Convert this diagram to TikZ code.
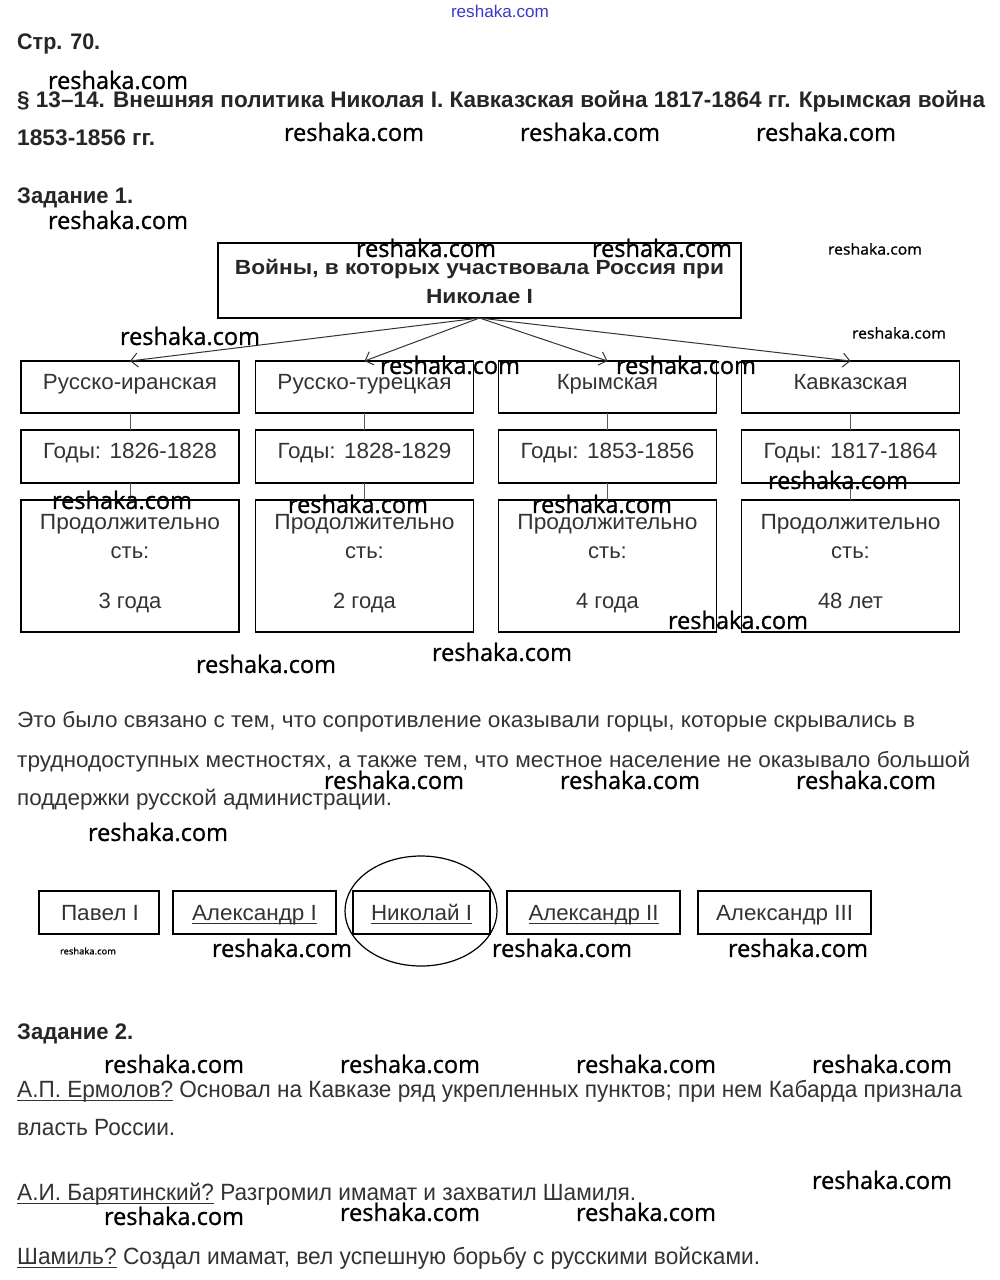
\documentclass[tikz,border=0pt]{standalone}
\usepackage{fontspec}
\usepackage{graphicx}
\setmainfont{Liberation Sans}
\newfontfamily\wmfont[FakeBold=1]{Open Sans}
\usetikzlibrary{arrows.meta,shapes.geometric}
\definecolor{tg}{HTML}{333333}
\definecolor{hg}{HTML}{262626}
\definecolor{wmblue}{HTML}{3A3AC8}
\newcommand\fw[2]{\resizebox{#1}{\height}{#2}}
\newcommand\ulx[1]{\setbox0\hbox{#1}\rlap{\rule[-3.5pt]{\wd0}{1pt}}\box0\relax}
\begin{document}
\begin{tikzpicture}[x=1pt,y=-1pt,
  box/.style={draw=black, line width=1.3pt, inner sep=0pt, outer sep=0pt},
  lbl/.style={anchor=base, inner sep=0pt, font=\fontsize{22}{26}\selectfont, text=tg},
  ln/.style={anchor=base west, inner sep=0pt, font=\fontsize{22}{26}\selectfont, text=tg},
  lnc/.style={anchor=base west, inner sep=0pt, font=\fontsize{23.5}{27}\selectfont, text=tg},
  hd/.style={anchor=base west, inner sep=0pt, font=\bfseries\fontsize{22.5}{26}\selectfont, text=hg},
  wm/.style={inner sep=0pt, font=\wmfont\fontsize{24}{28}\selectfont, text=black},
  wms/.style={inner sep=0pt, font=\wmfont\fontsize{15}{18}\selectfont, text=black},
  wmt/.style={inner sep=0pt, font=\wmfont\fontsize{9}{11}\selectfont, text=black},
  conn/.style={draw=black!65, line width=0.8pt},
  arr/.style={draw=black!80, line width=1pt, -{Straight Barb[length=7pt,width=14pt]}}]
\fill[white] (0,0) rectangle (1000,1280);
\useasboundingbox (0,0) rectangle (1000,1280);

% top blue mark
\node[inner sep=0pt, text=wmblue, font=\fontsize{17}{20}\selectfont] (topwm) at (500,11) {\fw{98pt}{reshaka.com}};

% headings
\node[hd] (str) at (17,49) {\fw{83pt}{Стр. 70.}};
\node[hd] (h1) at (17,107) {\fw{968pt}{§ 13–14. Внешняя политика Николая I. Кавказская война 1817-1864 гг. Крымская война}};
\node[hd] (h2) at (17,145) {\fw{138pt}{1853-1856 гг.}};
\node[hd] (z1) at (17,203) {\fw{116pt}{Задание 1.}};

% main box
\node[box, minimum width=523pt, minimum height=75pt] (main) at (479.5,280.5) {};
\node[lbl, font=\bfseries\fontsize{20.5}{24}\selectfont, text=hg] (mt1) at (479.5,274) {\fw{489pt}{Войны, в которых участвовала Россия при}};
\node[lbl, font=\bfseries\fontsize{20.5}{24}\selectfont, text=hg] (mt2) at (479.5,303) {\fw{107pt}{Николае I}};

% row boxes
\foreach \n/\cx in {a/130,b/364.5,c/607.5,d/850.5}{
  \node[box, minimum width=218pt, minimum height=52pt] (r1\n) at (\cx,387) {};
  \node[box, minimum width=218pt, minimum height=53pt] (r2\n) at (\cx,456.5) {};
  \node[box, minimum width=218pt, minimum height=132pt] (r3\n) at (\cx,566) {};
  \draw[conn] (r1\n.south) -- (r2\n.north);
  \draw[conn] (r2\n.south) -- (r3\n.north);
  \draw[arr] (main.south) -- (r1\n.north);
  \node[lbl] (p1\n) at (\cx,529) {\fw{180pt}{Продолжительно}};
  \node[lbl] (p2\n) at (\cx,558) {сть:};
}
\node[lbl] (t1a) at (130,389) {\fw{174pt}{Русско-иранская}};
\node[lbl] (t1b) at (364.5,389) {\fw{174pt}{Русско-турецкая}};
\node[lbl] (t1c) at (607.5,389) {Крымская};
\node[lbl] (t1d) at (850.5,389) {Кавказская};
\node[lbl] (t2a) at (130,458) {\fw{174pt}{Годы: 1826-1828}};
\node[lbl] (t2b) at (364.5,458) {\fw{174pt}{Годы: 1828-1829}};
\node[lbl] (t2c) at (607.5,458) {\fw{174pt}{Годы: 1853-1856}};
\node[lbl] (t2d) at (850.5,458) {\fw{174pt}{Годы: 1817-1864}};
\node[lbl] (t3a) at (130,608) {3 года};
\node[lbl] (t3b) at (364.5,608) {2 года};
\node[lbl] (t3c) at (607.5,608) {4 года};
\node[lbl] (t3d) at (850.5,608) {48 лет};

% paragraph
\node[ln] (pa1) at (17,727) {\fw{898pt}{Это было связано с тем, что сопротивление оказывали горцы, которые скрывались в}};
\node[ln] (pa2) at (17,767) {\fw{953pt}{труднодоступных местностях, а также тем, что местное население не оказывало большой}};
\node[ln] (pa3) at (17,805) {\fw{375pt}{поддержки русской администрации.}};

% rulers
\node[box, minimum width=120pt, minimum height=43pt] (pav) at (99,912.5) {};
\node[box, minimum width=163pt, minimum height=43pt] (al1) at (254.5,912.5) {};
\node[box, minimum width=137pt, minimum height=43pt] (nik) at (421.5,912.5) {};
\node[box, minimum width=173pt, minimum height=43pt] (al2) at (593.5,912.5) {};
\node[box, minimum width=173pt, minimum height=43pt] (al3) at (784.5,912.5) {};
\node[lbl] (pavt) at (100,920) {\fw{78pt}{Павел I}};
\node[lbl] (al1t) at (254.5,920) {\fw{125pt}{\ulx{Александр I}}};
\node[lbl] (nikt) at (421.5,920) {\fw{101pt}{\ulx{Николай I}}};
\node[lbl] (al2t) at (593.5,920) {\fw{130pt}{\ulx{Александр II}}};
\node[lbl] (al3t) at (784.5,920) {\fw{137pt}{Александр III}};
\draw[line width=1.2pt] (421,911) ellipse [x radius=76pt, y radius=55pt];

% task 2
\node[hd] (z2) at (17,1039) {\fw{116pt}{Задание 2.}};
\node[lnc] (q1) at (17,1097) {\fw{945pt}{\ulx{А.П. Ермолов?} Основал на Кавказе ряд укрепленных пунктов; при нем Кабарда признала}};
\node[lnc] (q1b) at (17,1135) {\fw{158pt}{власть России.}};
\node[lnc] (q2) at (17,1200) {\fw{619pt}{\ulx{А.И. Барятинский?} Разгромил имамат и захватил Шамиля.}};
\node[lnc] (q3) at (17,1264) {\fw{743pt}{\ulx{Шамиль?} Создал имамат, вел успешную борьбу с русскими войсками.}};

% watermarks
\foreach \x/\y [count=\i] in {118/80, 354/132, 590/132, 826/132, 118/220, 426/248, 662/248,
  190/336, 450/365, 686/365, 122/500, 358/504, 602/504, 838/480, 738/620, 266/664, 502/652,
  394/780, 630/780, 866/780, 158/832, 282/948, 562/948, 798/948,
  174/1064, 410/1064, 646/1064, 882/1064, 882/1180, 174/1216, 410/1212, 646/1212}{
  \node[wm] (wm\i) at (\x,\y) {\fw{140pt}{reshaka.com}};
}
\node[wms] (wsa) at (875,249) {\fw{94pt}{reshaka.com}};
\node[wms] (wsb) at (899,333) {\fw{94pt}{reshaka.com}};
\node[wmt] (wst) at (88,951) {\fw{56pt}{reshaka.com}};
\end{tikzpicture}
\end{document}
